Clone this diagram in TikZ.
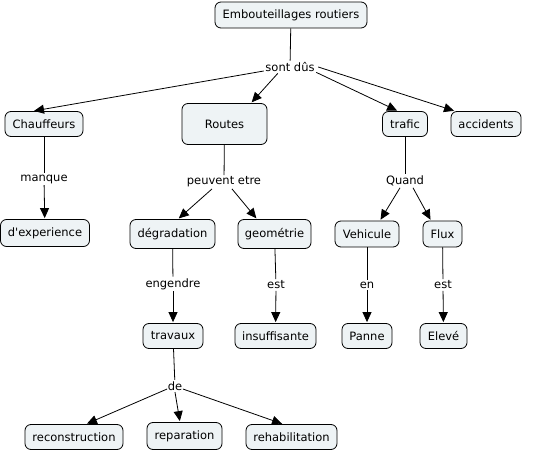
\documentclass[tikz,border=0pt]{standalone}
\usepackage{fontspec}
\setmainfont{DejaVu Sans}
\usetikzlibrary{arrows.meta}
\definecolor{boxfill}{HTML}{EEF3F5}
\tikzset{
  concept/.style={draw=black, line width=0.8bp, fill=boxfill, rounded corners=6bp,
    inner sep=0pt, align=center, font=\fontsize{11.5bp}{13bp}\selectfont},
  lbl/.style={inner sep=1.5bp, font=\fontsize{11.5bp}{13bp}\selectfont},
  ln/.style={draw=black, line width=0.8bp},
  arr/.style={ln, -{Triangle[length=10bp,width=9bp]}, shorten >=1bp}
}
\begin{document}
\begin{tikzpicture}[x=1bp,y=-1bp]
\useasboundingbox (0,0) rectangle (548,452);
% concepts
\node[concept, minimum width=152bp, minimum height=26bp] (emb) at (291,15) {Embouteillages routiers};
\node[concept, minimum width=78bp, minimum height=25bp] (chauf) at (44,124) {Chauffeurs};
\node[concept, minimum width=85bp, minimum height=41bp] (routes) at (224.5,124) {Routes};
\node[concept, minimum width=45bp, minimum height=25bp] (trafic) at (405,124) {trafic};
\node[concept, minimum width=70bp, minimum height=25bp] (acc) at (486,124) {accidents};
\node[concept, minimum width=89bp, minimum height=27bp] (exp) at (45,233) {d\textquotesingle experience};
\node[concept, minimum width=85bp, minimum height=29bp] (deg) at (172.5,234) {dégradation};
\node[concept, minimum width=73bp, minimum height=29bp] (geo) at (274.5,234) {geométrie};
\node[concept, minimum width=64bp, minimum height=26bp] (veh) at (367,234) {Vehicule};
\node[concept, minimum width=39bp, minimum height=26bp] (flux) at (442.5,234) {Flux};
\node[concept, minimum width=60bp, minimum height=25bp] (trav) at (173,336) {travaux};
\node[concept, minimum width=81bp, minimum height=25bp] (insuf) at (275.5,336) {insuffisante};
\node[concept, minimum width=50bp, minimum height=25bp] (panne) at (367,336) {Panne};
\node[concept, minimum width=47bp, minimum height=25bp] (elev) at (443.5,336) {Elevé};
\node[concept, minimum width=98bp, minimum height=25bp] (recon) at (74,437) {reconstruction};
\node[concept, minimum width=75bp, minimum height=27bp] (repar) at (184.5,436) {reparation};
\node[concept, minimum width=91bp, minimum height=25bp] (rehab) at (291.5,437) {rehabilitation};
% linking phrases
\node[lbl] (sont) at (290,67) {sont dûs};
\node[lbl] (manque) at (44,179) {manque};
\node[lbl] (peuv) at (224,182) {peuvent etre};
\node[lbl] (quand) at (405,181) {Quand};
\node[lbl] (eng) at (173,284) {engendre};
\node[lbl] (est1) at (276,285) {est};
\node[lbl] (en) at (367,285) {en};
\node[lbl] (est2) at (443,285) {est};
\node[lbl] (de) at (175,386) {de};
% connectors
\draw[ln] (emb) -- (sont);
\draw[arr] (sont.west) ++(0,4) coordinate (s1) (s1) -- (chauf.north -| 33,0);
\draw[arr] (sont.south west) ++(14,0) coordinate (s2) (s2) -- (routes.north -| 251,0);
\draw[arr] (sont.south east) ++(0,-1) coordinate (s3) (s3) -- (trafic.north -| 398,0);
\draw[arr] (sont.east) ++(2,0) coordinate (s4) (s4) -- (acc.north -| 455,0);

\draw[ln] (chauf) -- (manque);
\draw[arr] (manque) -- (exp);
\draw[ln] (routes) -- (peuv);
\draw[arr] (peuv.south) ++(-12,0) coordinate (p1) (p1) -- (deg.north -| 178,0);
\draw[arr] (peuv.south) ++(8,0) coordinate (p2) (p2) -- (geo.north -| 257,0);
\draw[ln] (trafic) -- (quand);
\draw[arr] (quand.south) ++(-5,0) coordinate (q1) (q1) -- (veh.north -| 380,0);
\draw[arr] (quand.south) ++(8,0) coordinate (q2) (q2) -- (flux.north -| 431,0);
\draw[ln] (deg) -- (eng);
\draw[arr] (eng) -- (trav);
\draw[ln] (geo) -- (est1);
\draw[arr] (est1) -- (insuf);
\draw[ln] (veh) -- (en);
\draw[arr] (en) -- (panne);
\draw[ln] (flux) -- (est2);
\draw[arr] (est2) -- (elev);
\draw[ln] (trav) -- (de);
\draw[arr] (de.west) ++(1,3) coordinate (d1) (d1) -- (recon.north -| 86,0);
\draw[arr] (de.south) coordinate (d2) (d2) -- (repar.north -| 180,0);
\draw[arr] (de.east) ++(-1,3) coordinate (d3) (d3) -- (rehab.north -| 283,0);
\end{tikzpicture}
\end{document}
